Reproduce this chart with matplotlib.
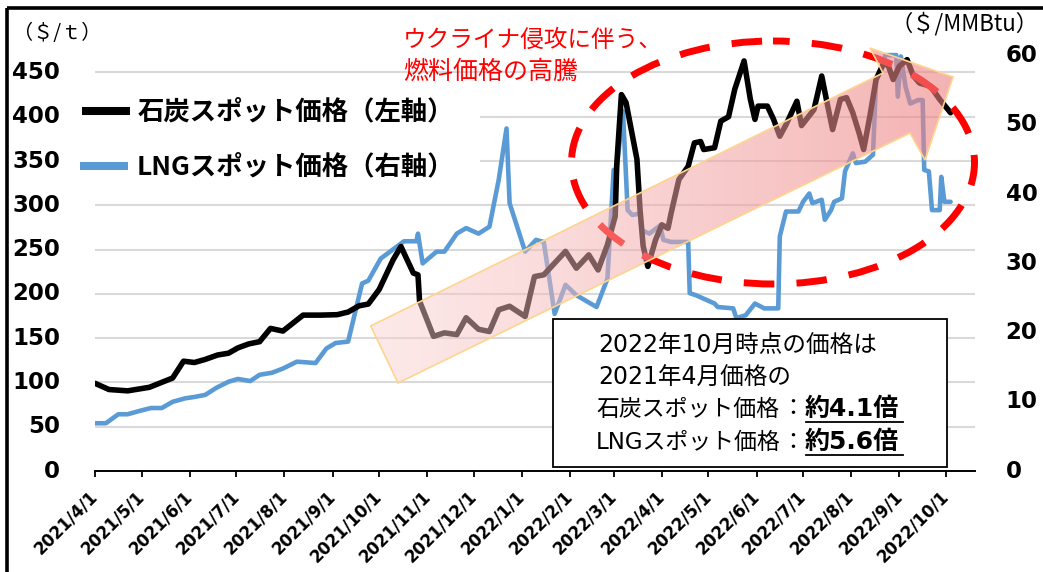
import matplotlib
matplotlib.use('Agg')
import matplotlib.pyplot as plt
import numpy as np
import pandas as pd
from matplotlib.patches import Ellipse, Polygon, Rectangle
from matplotlib.transforms import blended_transform_factory

plt.rcParams['font.family'] = ['Noto Sans CJK JP', 'DejaVu Sans']

# ---------------- data ----------------
coal_dates = ['2021-04-01','2021-04-10','2021-04-22','2021-05-06','2021-05-21','2021-05-28','2021-06-04','2021-06-11',
              '2021-06-19','2021-06-26','2021-07-02','2021-07-09','2021-07-16','2021-07-23','2021-07-31','2021-08-13',
              '2021-08-24','2021-09-04','2021-09-11','2021-09-18','2021-09-24','2021-10-01','2021-10-10','2021-10-15',
              '2021-10-23','2021-10-26','2021-10-27','2021-11-05','2021-11-12','2021-11-20','2021-11-26','2021-12-04',
              '2021-12-11','2021-12-17','2021-12-24','2022-01-03','2022-01-09','2022-01-15','2022-01-29','2022-02-05',
              '2022-02-13','2022-02-19','2022-02-25','2022-03-02','2022-03-03','2022-03-06','2022-03-09','2022-03-16',
              '2022-03-18','2022-03-20','2022-03-23','2022-03-28','2022-04-01','2022-04-05','2022-04-07','2022-04-12',
              '2022-04-18','2022-04-22','2022-04-26','2022-04-28','2022-05-05','2022-05-09','2022-05-14','2022-05-18',
              '2022-05-24','2022-05-28','2022-05-31','2022-06-02','2022-06-08','2022-06-12','2022-06-16','2022-06-20',
              '2022-06-27','2022-06-30','2022-07-08','2022-07-13','2022-07-16','2022-07-20','2022-07-25','2022-07-29',
              '2022-08-02','2022-08-06','2022-08-09','2022-08-13','2022-08-17','2022-08-22','2022-08-25','2022-08-28',
              '2022-09-01','2022-09-06','2022-09-10','2022-09-14','2022-09-21','2022-09-27','2022-10-04']
coal_values = [99, 92, 90.5, 94.5, 105, 124, 122.5, 126, 131, 133, 139, 143.5, 146, 161, 158, 176, 176, 176.5, 179.5,
               186.5, 188.5, 205, 238.5, 253.5, 223.5, 221.5, 192, 152, 156, 154, 173, 160, 157.5, 182, 186, 174.5,
               219.5, 221.5, 248, 229, 244, 227, 255.5, 287.5, 346, 425, 416, 352, 295, 254, 231, 261, 278, 274, 291,
               329, 344, 370.5, 372, 363, 365, 395, 400, 431, 463, 420, 397, 412, 412, 397, 378, 391, 417.5, 390, 408,
               446, 419.5, 385.5, 419.5, 421.5, 404.5, 382, 363, 400.5, 442, 461, 457, 442, 457, 464.5, 446, 438,
               434.5, 419.5, 404.5]

lng_dates = ['2021-04-01','2021-04-08','2021-04-16','2021-04-22','2021-04-30','2021-05-07','2021-05-14','2021-05-21',
             '2021-05-29','2021-06-04','2021-06-11','2021-06-18','2021-06-26','2021-07-02','2021-07-10','2021-07-16',
             '2021-07-24','2021-07-31','2021-08-09','2021-08-21','2021-08-28','2021-09-03','2021-09-11','2021-09-20',
             '2021-09-24','2021-10-02','2021-10-17','2021-10-25','2021-10-26','2021-10-29','2021-11-07','2021-11-12',
             '2021-11-20','2021-11-26','2021-12-04','2021-12-11','2021-12-17','2021-12-22','2021-12-24','2022-01-03',
             '2022-01-10','2022-01-15','2022-01-22','2022-01-29','2022-02-05','2022-02-18','2022-02-25','2022-03-01',
             '2022-03-03','2022-03-07','2022-03-10','2022-03-13','2022-03-18','2022-03-19','2022-03-24','2022-03-31',
             '2022-04-02','2022-04-07','2022-04-18','2022-04-19','2022-04-23','2022-05-05','2022-05-07','2022-05-17',
             '2022-05-19','2022-05-25','2022-05-31','2022-06-06','2022-06-15','2022-06-16','2022-06-20','2022-06-28',
             '2022-07-01','2022-07-05','2022-07-07','2022-07-13','2022-07-15','2022-07-19','2022-07-21','2022-07-26',
             '2022-07-28','2022-08-02','2022-08-04','2022-08-10','2022-08-15','2022-08-17','2022-08-20','2022-08-23',
             '2022-08-30','2022-08-31','2022-09-02','2022-09-05','2022-09-08','2022-09-13','2022-09-16','2022-09-17',
             '2022-09-20','2022-09-22','2022-09-27','2022-09-28','2022-09-30','2022-10-04']
lng_values = [6.9, 6.9, 8.2, 8.2, 8.7, 9.1, 9.1, 10.0, 10.5, 10.7, 11.0, 12.0, 12.9, 13.3, 13.0, 13.9, 14.2, 14.8,
              15.8, 15.6, 17.7, 18.5, 18.7, 27.1, 27.5, 30.7, 33.2, 33.2, 34.3, 30.0, 31.7, 31.7, 34.3, 35.1, 34.3,
              35.3, 42.1, 49.5, 38.7, 31.7, 33.4, 33.1, 22.7, 26.9, 25.4, 23.7, 27.8, 43.5, 43.7, 52.0, 37.7, 37.0,
              37.2, 34.8, 34.3, 35.5, 33.4, 33.1, 33.1, 25.7, 25.4, 24.2, 23.7, 23.5, 22.1, 22.5, 24.2, 23.5, 23.5,
              33.9, 37.5, 37.5, 38.9, 40.1, 38.7, 39.2, 36.3, 37.7, 38.9, 39.4, 43.3, 45.9, 44.5, 44.7, 45.7, 56.5,
              57.7, 60.1, 60.1, 54.1, 59.9, 55.5, 53.1, 53.6, 53.6, 43.5, 43.3, 37.7, 37.7, 42.5, 38.9, 38.9]

month_ticks = pd.date_range('2021-04-01', '2022-10-01', freq='MS')
x_tick_labels = [f"{d.year}/{d.month}/{d.day}" for d in month_ticks]
coal_ticks = [0, 50, 100, 150, 200, 250, 300, 350, 400, 450]
lng_ticks = [0, 10, 20, 30, 40, 50, 60]

coal_label = '石炭スポット価格（左軸）'
lng_label = 'LNGスポット価格（右軸）'
left_unit = '（＄/ｔ）'
right_unit = '（＄/MMBtu）'
callout = ['ウクライナ侵攻に伴う、', '燃料価格の高騰']
box_lines = ['2022年10月時点の価格は', '2021年4月価格の']
box_items = [('石炭スポット価格', '約4.1倍'), ('LNGスポット価格', '約5.6倍')]

# ---------------- figure ----------------
W, H = 1043, 572
fig = plt.figure(figsize=(W / 100, H / 100), dpi=100)
fig.patch.set_facecolor('white')
L, R, B, T = 95, 975, 471, 45
ax_l = fig.add_axes([L / W, 1 - B / H, (R - L) / W, (B - T) / H])   # LNG (right scale)
ax_c = ax_l.twinx()                                                 # coal (left scale)
ax_c.yaxis.tick_left()
ax_l.yaxis.tick_right()

cd = pd.to_datetime(coal_dates)
ld = pd.to_datetime(lng_dates)

ax_c.set_ylim(0, 481)
ax_l.set_ylim(0, 61.56)
ax_l.set_xlim(pd.Timestamp('2021-04-01'), pd.Timestamp('2022-10-19 17:00'))

# gridlines at coal values (drawn in the lower axes so they stay behind both lines)
blend = blended_transform_factory(ax_l.transAxes, ax_c.transData)
for v in coal_ticks[1:]:
    ax_l.plot([0, 1], [v, v], transform=blend, color='#d9d9d9', lw=1.5, zorder=0.5)

ax_l.plot(ld, lng_values, color='#5B9BD5', lw=3.3, solid_joinstyle='round', solid_capstyle='round', zorder=2)
ax_c.plot(cd, coal_values, color='black', lw=4.0, solid_joinstyle='round', solid_capstyle='round', zorder=2)

for a in (ax_l, ax_c):
    for s in a.spines.values():
        s.set_visible(False)
ax_l.spines['bottom'].set_visible(True)
ax_l.spines['bottom'].set_color('black')
ax_l.spines['bottom'].set_linewidth(1.4)

ax_c.set_yticks(coal_ticks)
ax_c.set_yticklabels([str(t) for t in coal_ticks], fontsize=16.5, fontweight='bold', family='DejaVu Sans', va='center')
ax_c.tick_params(axis='y', length=0, pad=25)
ax_l.set_yticks(lng_ticks)
ax_l.set_yticklabels([str(t) for t in lng_ticks], fontsize=16.5, fontweight='bold', family='DejaVu Sans', va='center')
ax_l.tick_params(axis='y', length=0, pad=22)

ax_l.set_xticks(month_ticks)
ax_l.set_xticklabels(x_tick_labels, rotation=45, ha='right', va='center', rotation_mode='anchor',
                     fontsize=12, fontweight='bold', family='DejaVu Sans')
ax_l.tick_params(axis='x', direction='out', length=4.5, width=1.3, color='black', pad=12)
ax_c.tick_params(axis='x', length=0)

# ---------------- overlay (pixel coordinates) ----------------
ov = fig.add_axes([0, 0, 1, 1], zorder=5)
ov.patch.set_visible(False)
ov.axis('off')

# outer frame
ov.add_patch(Rectangle((6.5, 8), 1100, 700, fill=False, ec='black', lw=2.6, zorder=1))

# dashed ellipse
ov.add_patch(Ellipse((773, 162.5), 403, 243, fill=False, ec='#ff0000', lw=5,
                     linestyle=(2, (4.4, 3.2)), capstyle='butt', zorder=2))

# translucent arrow with gradient
arrow_pts = [(370.7, 326), (883, 73), (870, 48), (953, 77), (925, 160), (910, 133), (398, 383)]
arrow = Polygon(arrow_pts, closed=True, fc='none', ec=(1.0, 0.83, 0.55), lw=1.2, zorder=4)
ov.add_patch(arrow)
t = np.linspace(0, 1, 256)
c0 = np.array([250, 210, 210]) / 255
c1 = np.array([238, 128, 128]) / 255
grad = np.zeros((2, 256, 4))
for i in range(3):
    grad[:, :, i] = c0[i] + (c1[i] - c0[i]) * t
grad[:, :, 3] = 0.47 + 0.13 * t
im = ov.imshow(grad, extent=(370, 953, 383, 48), aspect='auto', interpolation='bilinear', zorder=3)
im.set_clip_path(arrow)

# red callout text
ov.text(403, 40, callout[0], color='#ff0000', fontsize=17, va='center', ha='left', zorder=6)
ov.text(403, 72, callout[1], color='#ff0000', fontsize=18, va='center', ha='left', zorder=6)

# legend
ov.add_patch(Rectangle((74, 86), 406, 106, fc='white', ec='none', zorder=5))
ov.plot([82, 130], [111, 111], color='black', lw=5.8, solid_capstyle='butt', zorder=6)
ov.plot([80, 128], [166, 166], color='#5B9BD5', lw=5.8, solid_capstyle='butt', zorder=6)
ov.text(138, 112, coal_label, fontsize=19, fontweight='bold', va='center', ha='left', zorder=6)
ov.text(137, 167, lng_label, fontsize=19, fontweight='bold', va='center', ha='left', zorder=6)

# axis units
ov.text(13, 33, left_unit, fontsize=14.5, va='center', ha='left', zorder=6)
ov.text(890, 24, right_unit, fontsize=16, va='center', ha='left', zorder=6)

# text box
ov.add_patch(Rectangle((553, 319), 394, 148, fc='white', ec='black', lw=1.3, zorder=5))
fam = ['DejaVu Sans', 'Noto Sans CJK JP']
ov.text(598, 345, box_lines[0], fontsize=17, va='center', ha='left', family=fam, zorder=6)
ov.text(598, 378, box_lines[1], fontsize=17, va='center', ha='left', family=fam, zorder=6)
for (lab, val), yy in zip(box_items, [409, 442]):
    ov.text(596, yy, lab, fontsize=16.5, va='center', ha='left', family=fam, zorder=6)
    ov.text(793, yy, '：', fontsize=16.5, va='center', ha='center', family=fam, zorder=6)
    ov.text(805, yy, val, fontsize=18, fontweight='bold', va='center', ha='left', family=fam, zorder=6)
    ov.plot([806, 903], [yy + 12.5, yy + 12.5], color='black', lw=1.3, zorder=6)

ov.set_xlim(0, W)
ov.set_ylim(H, 0)

fig.savefig('out.png', dpi=100, facecolor='white')
